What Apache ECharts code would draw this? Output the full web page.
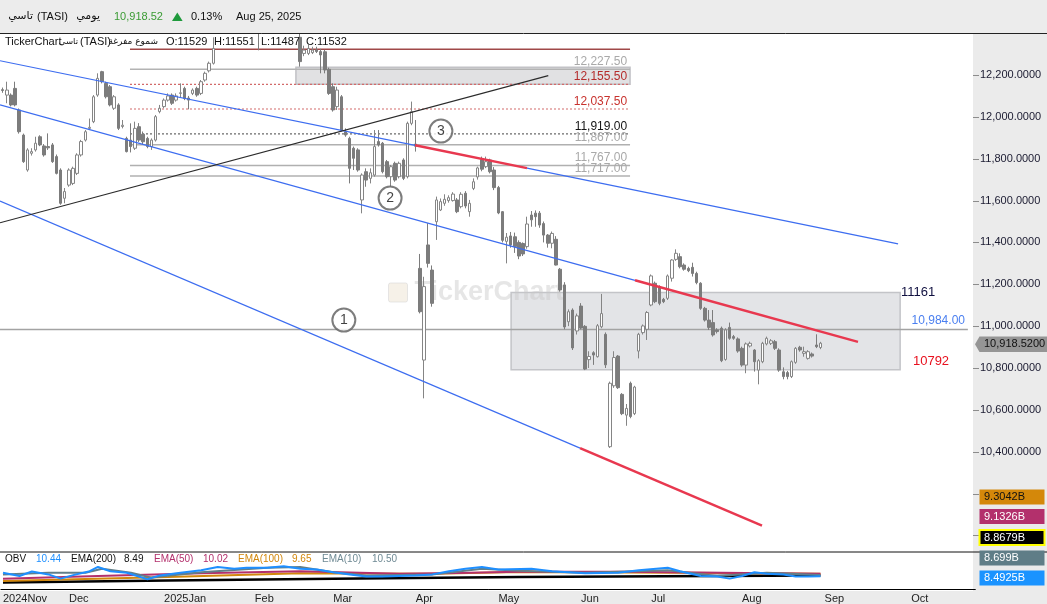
<!DOCTYPE html>
<html><head><meta charset="utf-8">
<script src="https://cdn.jsdelivr.net/npm/echarts@6/dist/echarts.min.js"></script>
<style>
html,body{margin:0;padding:0;background:#fff;overflow:hidden;}
#wrap{position:relative;width:1047px;height:604px;}
.bg{position:absolute;}
#chart{position:absolute;left:0;top:0;width:1047px;height:604px;}
</style>
</head><body>
<div id="wrap">
  <div class="bg" style="left:973px;top:34px;width:74px;height:570px;background:#ebebeb"></div>
  <div class="bg" style="left:0;top:591px;width:1047px;height:13px;background:#ebebeb"></div>
  <div id="chart"></div>
</div>
<script>
// ---------------- DATA ----------------
const HOLIDAYS = ['2025-02-23','2025-03-30','2025-03-31','2025-04-01','2025-04-02','2025-06-05','2025-06-08','2025-06-09','2025-06-10'];
const TOTAL_SLOTS = 236;
const monthTickIdx  = [0, 16, 39, 61, 80, 100, 120, 140, 157, 179, 199, 220];
const monthTickText = ['2024Nov','Dec','2025Jan','Feb','Mar','Apr','May','Jun','Jul','Aug','Sep','Oct'];
const priceTicks = [10000,10200,10400,10600,10800,11000,11200,11400,11600,11800,12000,12200];

const opens = [12130,12104,12104,12136,12033,11913,11746,11826,11842,11905,
 11861,11858,11866,11810,11746,11611,11674,11682,11730,11818,
 11889,11945,11977,12104,12216,12160,12144,12041,12057,11954,
 11897,11889,11850,11953,11917,11897,11858,11889,12025,12049,
 12080,12104,12080,12112,12136,12090,12112,12136,12112,12176,
 12220,12256,12410,12440,12425,12470,12455,12500,12480,12520,
 12500,12470,12420,12405,12430,12460,12440,12470,12450,12430,
 12445,12420,12380,12303,12303,12307,12320,12312,12311,12227,
 12144,12049,12096,11929,11897,11850,11842,11603,11738,11706,
 11722,11882,11874,11786,11714,11778,11714,11794,11714,11969,
 11870,11276,10838,11388,11268,11499,11555,11587,11600,11600,
 11603,11571,11635,11547,11658,11713,11795,11762,11794,11746,
 11662,11547,11405,11431,11427,11400,11395,11380,11531,11540,
 11540,11490,11435,11396,11415,11272,11197,11021,11077,10977,
 11096,10999,10840,10873,10854,10997,10961,10424,10715,10857,
 10674,10575,10727,10582,10881,10969,10985,11101,11205,11189,
 11128,11133,11229,11319,11332,11292,11276,11281,11252,11205,
 11085,11029,11017,10982,10990,10841,10994,10950,10939,10894,
 10814,10905,10886,10790,10830,10915,10918,10926,10886,10782,
 10778,10759,10827,10899,10870,10846,10867,10910,10898];
const closes = [12126,12128,12057,12057,11929,11786,11842,11834,11874,11866,
 11818,11852,11786,11730,11587,11643,11746,11754,11818,11882,
 11929,11950,12096,12184,12168,12096,12057,12096,11945,11960,
 11834,11858,11945,11889,11881,11858,11889,12001,12041,12080,
 12100,12065,12100,12115,12088,12080,12128,12104,12168,12208,
 12256,12327,12440,12425,12470,12455,12500,12480,12520,12500,
 12470,12430,12400,12430,12460,12440,12470,12450,12430,12445,
 12420,12400,12264,12319,12327,12319,12312,12296,12224,12112,
 12033,12128,11937,11913,11754,11802,11746,11722,11698,11733,
 11858,11866,11738,11714,11762,11698,11778,11706,11969,12025,
 11860,11069,11189,11300,11109,11603,11595,11606,11614,11631,
 11547,11630,11574,11587,11690,11756,11750,11786,11738,11662,
 11541,11410,11425,11388,11380,11335,11345,11488,11508,11523,
 11483,11435,11396,11443,11292,11173,10996,11069,10896,11049,
 10991,10795,10855,10862,11002,11060,10815,10727,10850,10706,
 10582,10607,10568,10709,10961,11001,11065,11240,11117,11109,
 11117,11240,11316,11348,11284,11272,11265,11252,11208,11085,
 11029,10994,10958,10974,10835,10982,10942,10942,10881,10814,
 10915,10918,10830,10835,10918,10942,10930,10894,10790,10759,
 10759,10830,10894,10886,10878,10878,10857,10902,10918.52];
const lows = [12115,12065,12050,12050,11920,11780,11738,11815,11834,11860,
 11810,11842,11780,11725,11580,11587,11666,11674,11722,11810,
 11882,11937,11970,12096,12160,12088,12050,12033,11937,11945,
 11830,11830,11842,11880,11870,11850,11842,11882,12017,12041,
 12073,12057,12073,12090,12080,12036,12104,12096,12104,12168,
 12212,12250,12400,12410,12415,12440,12445,12470,12470,12490,
 12460,12420,12318,12400,12420,12430,12430,12440,12420,12415,
 12405,12400,12240,12290,12295,12300,12305,12208,12208,12105,
 12025,12033,11930,11905,11682,11746,11738,11539,11666,11682,
 11714,11858,11730,11706,11666,11690,11706,11698,11706,11960,
 11834,11061,10655,11280,11093,11412,11550,11575,11590,11595,
 11540,11563,11563,11523,11650,11700,11740,11755,11730,11650,
 11535,11400,11300,11375,11350,11320,11335,11370,11475,11475,
 11470,11400,11375,11372,11290,11165,10985,11000,10886,10960,
 10985,10790,10800,10815,10850,10990,10800,10418,10705,10700,
 10575,10524,10560,10575,10846,10960,10934,11095,11110,11100,
 11110,11125,11213,11312,11276,11265,11258,11237,11200,11078,
 11022,10982,10950,10965,10828,10835,10935,10935,10873,10806,
 10775,10898,10783,10722,10823,10908,10910,10886,10782,10746,
 10746,10752,10820,10878,10854,10840,10850,10895,10890];
const highs = [12140,12168,12112,12168,12040,11920,11850,11850,11905,11912,
 11870,11921,11875,11820,11754,11660,11754,11762,11826,11890,
 11937,11992,12104,12208,12220,12168,12152,12104,12065,11985,
 11905,11969,11977,11970,11930,11905,11897,12009,12057,12088,
 12112,12112,12112,12160,12144,12100,12136,12144,12176,12216,
 12264,12380,12460,12460,12480,12490,12510,12520,12540,12536,
 12510,12480,12430,12440,12475,12470,12480,12490,12460,12455,
 12450,12430,12420,12340,12345,12335,12335,12325,12320,12235,
 12160,12144,12104,11945,11905,11858,11850,11730,11754,11754,
 11937,11937,11880,11794,11770,11786,11786,11802,11977,12073,
 11985,11345,11236,11492,11290,11619,11610,11630,11625,11640,
 11612,11640,11645,11603,11706,11762,11810,11810,11800,11760,
 11670,11550,11445,11450,11447,11410,11400,11523,11550,11553,
 11550,11500,11440,11452,11430,11278,11210,11080,11085,11060,
 11110,11005,10880,10880,11010,11154,10970,10735,10880,10862,
 10680,10628,10735,10715,10968,11008,11072,11247,11213,11195,
 11135,11247,11320,11367,11348,11300,11284,11303,11260,11210,
 11092,11077,11077,10990,10998,10990,11017,10958,10946,10902,
 10922,10926,10890,10842,10925,10950,10938,10934,10894,10803,
 10786,10836,10900,10906,10902,10885,10874,10961,10925];

// OBV panel lines (billions), sampled at bar indices
const obvPts    = [[0,8.31],[4,8.09],[7,8.40],[11,8.20],[14,7.91],[17,8.15],[21,8.42],[23,8.71],[26,8.42],[30,8.31],[35,7.87],[38,8.13],[43,8.31],[48,8.49],[52,8.71],[56,8.58],[59,8.65],[64,8.65],[68,8.75],[72,8.58],[76,8.53],[80,8.35],[84,8.20],[88,8.05],[92,8.05],[96,8.09],[100,8.13],[104,8.20],[108,8.42],[112,8.58],[116,8.71],[120,8.53],[128,8.58],[133,8.42],[141,8.27],[149,8.31],[154,8.49],[161,8.65],[164,8.42],[169,8.09],[173,8.05],[176,7.91],[179,8.09],[182,8.35],[185,8.24],[189,8.20],[192,8.05],[195,8.05],[198,8.07]];
const ema200Pts = [[0,7.65],[40,7.78],[80,7.90],[125,8.03],[160,8.08],[198,8.13]];
const ema100Pts = [[0,7.75],[20,7.88],[40,8.02],[72,8.27],[104,8.25],[125,8.36],[150,8.33],[175,8.29],[198,8.25]];
const ema50Pts  = [[0,7.91],[23,8.09],[48,8.27],[72,8.42],[96,8.25],[110,8.30],[125,8.38],[152,8.38],[161,8.35],[180,8.30],[198,8.25]];
const ema10Pts  = [[0,8.20],[11,8.31],[20,8.31],[24,8.58],[31,8.31],[36,7.98],[48,8.35],[64,8.65],[72,8.71],[80,8.35],[88,8.13],[104,8.20],[116,8.58],[125,8.45],[141,8.31],[161,8.49],[173,8.09],[185,8.31],[198,8.15]];
const obvLegend = [['OBV','10.44'],['EMA(200)','8.49'],['EMA(50)','10.02'],['EMA(100)','9.65'],['EMA(10)','10.50']];
const obvLastLabels = ['9.3042B','9.1326B','8.8679B','8.699B','8.4925B'];

// drawn levels (price) and their labels
const levelPrices = [12227.5, 12155.5, 12037.5, 11919, 11867, 11767, 11717];
const levelLabels = ['12,227.50','12,155.50','12,037.50','11,919.00','11,867.00','11,767.00','11,717.00'];
const topLevel = 12323;
const levelSpan = [30.82, 151.9];
const refLine = 10984;
const boxBig = [123.1, 11161, 217.3, 10792];
const boxSmall = [71.0, 12237, 151.9, 12155.5];
// trend lines: [barIndex, price] vertices
const upperChannel = [[-0.65,12268],[99.85,11864],[126.95,11755],[216.8,11393]];
const middleChannel = [[-0.65,12057],[153.1,11219],[207.1,10925]];
const lowerChannel = [[-0.65,11598],[139.8,10417],[183.85,10047]];
const blackTrend = [[-0.65,11494],[132.1,12197]];
const waveMarks = [[82.6,11029,'1'],[93.8,11612,'2'],[106.1,11932,'3']];
const lastClose = 10918.52;

// ---------------- BUILD ----------------
function buildDates(){
  const out=[]; const d=new Date(Date.UTC(2024,10,7));
  while(out.length<TOTAL_SLOTS){
    const wd=d.getUTCDay(); const s=d.toISOString().slice(0,10);
    if(wd!==5 && wd!==6 && !HOLIDAYS.includes(s)) out.push(s);
    d.setUTCDate(d.getUTCDate()+1);
  }
  return out;
}
const dates = buildDates();
const ohlc = opens.map((o,k)=>[o, closes[k], lows[k], highs[k]]);
const tickSet = new Set(monthTickIdx);
const tickMap = {}; monthTickIdx.forEach((k,j)=>tickMap[k]=monthTickText[j]);
const FF = '"Liberation Sans", Arial, sans-serif';
const FA = '"DejaVu Sans", "Noto Sans", sans-serif';

const BLUE='#3d6df0', RED='#e8384f';
const series = [];
series.push({type:'line', xAxisIndex:2, yAxisIndex:0, data:[[-5,11000]], symbol:'none', silent:true, z:0,
  lineStyle:{opacity:0},
  markArea:{silent:true, label:{show:false}, data:[
    [{coord:[boxBig[0],boxBig[1]], itemStyle:{color:'#e3e4e7', borderColor:'#c3c4c8', borderWidth:1.5}}, {coord:[boxBig[2],boxBig[3]]}],
    [{coord:[boxSmall[0],boxSmall[1]], itemStyle:{color:'#e1e1e3', borderColor:'#c2c2c6', borderWidth:1.5}}, {coord:[boxSmall[2],boxSmall[3]]}]
  ]}});
series.push({type:'candlestick', xAxisIndex:0, yAxisIndex:0, data:ohlc, barWidth:3, z:3, silent:true, clip:true,
  itemStyle:{color:'#ffffff', color0:'#7c7c7c', borderColor:'#858585', borderColor0:'#7c7c7c', borderWidth:1}});
function seg(points,color,width,type,z){
  return {type:'line', xAxisIndex:2, yAxisIndex:0, data:points, symbol:'none', silent:true, z:z||4,
    lineStyle:{color:color, width:width, type:type||'solid'}};
}
const levelColors = ['#b3b3b3','#d26a6a','#d26a6a','#6a6a6a','#b0b0b0','#b0b0b0','#c4c4c4'];
const levelTypes  = ['solid',[2,2],[2,2],[2,2],'solid','solid','solid'];
const levelWidths = [1.5,1.2,1.2,1.2,1.5,1.5,2];
levelPrices.forEach((p,k)=>series.push(seg([[levelSpan[0],p],[levelSpan[1],p]], levelColors[k], levelWidths[k], levelTypes[k], 2)));
series.push(seg([[levelSpan[0],topLevel],[levelSpan[1],topLevel]], '#a04848', 1.5, 'solid', 2));
series.push(seg([[-0.65,refLine],[233.7,refLine]], '#a3a3a3', 1.5, 'solid', 2));
series.push(seg(upperChannel.slice(0,2), BLUE, 1.2));
series.push(seg(upperChannel.slice(1,3), RED, 2.5));
series.push(seg(upperChannel.slice(2,4), BLUE, 1.2));
series.push(seg(middleChannel.slice(0,2), BLUE, 1.2));
series.push(seg(middleChannel.slice(1,3), RED, 2.5));
series.push(seg(lowerChannel.slice(0,2), BLUE, 1.2));
series.push(seg(lowerChannel.slice(1,3), RED, 2.5));
series.push(seg(blackTrend, '#2b2b2b', 1.2));
const SCATTER_IDX = series.length;
series.push({type:'scatter', xAxisIndex:2, yAxisIndex:0, data:waveMarks, symbol:'circle', symbolSize:23, z:6, silent:true,
  itemStyle:{color:'#ffffff', borderColor:'#5c5c5c', borderWidth:2},
  label:{show:true, position:'inside', formatter:p=>p.value[2], color:'#111', fontSize:14, fontFamily:FF}});
function obvLine(pts,color,w){
  return {type:'line', xAxisIndex:1, yAxisIndex:1, data:pts, symbol:'none', silent:true, z:3,
    lineStyle:{color:color, width:w}};
}
series.push(obvLine(ema200Pts,'#000000',2.5));
series.push(obvLine(ema100Pts,'#d2870c',2));
series.push(obvLine(ema50Pts,'#b3306c',2));
series.push(obvLine(ema10Pts,'#627f89',2));
series.push(obvLine(obvPts,'#1e8fff',2));

const fmtPrice = v => v.toLocaleString('en-US',{minimumFractionDigits:4, maximumFractionDigits:4});

const option = {
  animation:false,
  backgroundColor:'transparent',
  grid:[
    {left:0.64, right:71.7, top:33.14, height:502.3},
    {left:0.64, right:71.7, top:552, height:38}
  ],
  xAxis:[
    {type:'category', gridIndex:0, data:dates, boundaryGap:true, show:false},
    {type:'category', gridIndex:1, data:dates, boundaryGap:true,
      axisLine:{lineStyle:{color:'#000', width:1}},
      axisTick:{inside:true, length:4, alignWithLabel:true, interval:(i)=>tickSet.has(i), lineStyle:{color:'#9a9a9a'}},
      axisLabel:{interval:(i)=>tickSet.has(i), formatter:(v,i)=>tickMap[i]||'', align:'left', margin:4, fontSize:11, color:'#1e1e1e', fontFamily:FF},
      splitLine:{show:false}},
    {type:'value', gridIndex:0, min:-0.5, max:TOTAL_SLOTS-0.5, show:false}
  ],
  yAxis:[
    {type:'value', gridIndex:0, position:'right', min:10000, max:12400, interval:200, offset:-2.3,
      axisLine:{show:false}, splitLine:{show:false}, axisTick:{show:false},
      axisLabel:{margin:7, fontSize:11, color:'#1a1a30', fontFamily:FF,
        formatter:v=> (v>=10400 && v<=12200) ? fmtPrice(v) : ''}},
    {type:'value', gridIndex:1, min:7.2, max:9.733, show:false}
  ],
  series:series
};
const chart = echarts.init(document.getElementById('chart'), null, {width:1047, height:604});
chart.setOption(option);

// ---------------- ANNOTATIONS ----------------
const P = (i,p)=>chart.convertToPixel({seriesIndex:SCATTER_IDX}, [i,p]);
const g = [];
function txt(x,y,t,opt){ opt=opt||{}; g.push({type:'text', x:x, y:y, z:opt.z||10, silent:true,
  style:{text:t, fill:opt.color||'#111', font:(opt.weight||'normal')+' '+(opt.size||11)+'px '+(opt.family||FF), textAlign:opt.align||'left', textVerticalAlign:'middle', opacity:opt.opacity==null?1:opt.opacity}}); }
// header bar (covers anything above the plot)
g.push({type:'rect', silent:true, z:9, shape:{x:0,y:0,width:1047,height:33}, style:{fill:'#ececec'}});
g.push({type:'line', silent:true, z:10, shape:{x1:0,y1:33.5,x2:1047,y2:33.5}, style:{stroke:'#222', lineWidth:1}});
txt(33,16.5,'تاسي',{size:11, align:'right', family:FA});
txt(37,16.5,'(TASI)',{size:11});
txt(100,16.5,'يومي',{size:11, align:'right', family:FA});
txt(114,16.5,'10,918.52',{size:11,color:'#3a9b33'});
g.push({type:'polygon', silent:true, z:10, shape:{points:[[172,21],[177.3,12.5],[182.6,21]]}, style:{fill:'#1f9a3c'}});
txt(191,16.5,'0.13%',{size:11});
txt(236,16.5,'Aug 25, 2025',{size:11});
// info row
txt(5,42,'TickerChart',{size:11});
txt(78,42,'تاسي',{size:8.5, align:'right', family:FA});
txt(80,42,'(TASI)',{size:11});
txt(158,42,'شموع مفرغة',{size:9, align:'right', family:FA});
txt(166,42,'O:11529',{size:11});
txt(214,42,'H:11551',{size:11});
txt(261,42,'L:11487',{size:11});
txt(306,42,'C:11532',{size:11});
// price axis ticks
priceTicks.forEach(v=>{ const yy=Math.round(P(0,v)[1])+0.5; g.push({type:'line', silent:true, z:10, shape:{x1:973,y1:yy,x2:979,y2:yy}, style:{stroke:'#8c8c8c', lineWidth:1}}); });
// watermark
const wm = P(100.2, 11161);
g.push({type:'rect', silent:true, z:1, shape:{x:wm[0]-28, y:283, width:19, height:19, r:2}, style:{fill:'rgba(235,225,205,0.45)', stroke:'rgba(215,215,215,0.6)'}});
txt(wm[0]-2, 293, 'TickerChart', {size:27, weight:'bold', color:'rgba(200,200,200,0.45)', z:1});
// level labels
const levelLabelColors = ['#a9a9a9','#b42b2b','#c8322e','#141414','#a9a9a9','#a9a9a9','#a9a9a9'];
levelPrices.forEach((p,k)=>{ const q=P(151.2,p); txt(q[0], q[1]-7.5, levelLabels[k], {size:12, align:'right', color:levelLabelColors[k]}); });
// box labels
let q = P(217.5, boxBig[1]); txt(q[0], q[1], '11161', {size:13, color:'#101040'});
q = P(220.4, boxBig[3]); txt(q[0], q[1]-8, '10792', {size:13, color:'#e8101e'});
q = P(233.0, refLine); txt(q[0], q[1]-9, '10,984.00', {size:12, align:'right', color:'#4a7ff0'});
// last price tag
q = P(198, lastClose); const yc=q[1]+1;
g.push({type:'polygon', silent:true, z:10, shape:{points:[[975,yc],[979.5,yc-7.8],[1047,yc-7.8],[1047,yc+7.8],[979.5,yc+7.8]]}, style:{fill:'#959595'}});
txt(984, yc, fmtPrice(lastClose), {size:11, color:'#111'});
// OBV panel
g.push({type:'line', silent:true, z:10, shape:{x1:0,y1:552,x2:1047,y2:552}, style:{stroke:'#111', lineWidth:1}});
const legendX = [[5,36],[71,124],[154,203],[238,292],[322,372]];
const legendColors = [['#111','#1e8fff'],['#111','#111'],['#b3306c','#b3306c'],['#d2870c','#d2870c'],['#6f8a94','#6f8a94']];
obvLegend.forEach((it,k)=>{ txt(legendX[k][0],559,it[0],{size:10,color:legendColors[k][0]}); txt(legendX[k][1],559,it[1],{size:10,color:legendColors[k][1]}); });
const boxY = [489.5, 509, 530, 550.5, 570.5];
const boxFill = ['#d4880a','#b3306c','#000000','#5f7d87','#1a93ff'];
const boxText = ['#111','#fff','#fff','#fff','#fff'];
obvLastLabels.forEach((t,k)=>{
  g.push({type:'rect', silent:true, z:10, shape:{x:979.5,y:boxY[k],width:65,height:15}, style:{fill:boxFill[k], stroke: k===2?'#ffff00':null, lineWidth: k===2?2:0}});
  txt(984, boxY[k]+7.8, t, {size:11, color:boxText[k]});
});
chart.setOption({graphic:{elements:g}});
</script>
</body></html>
